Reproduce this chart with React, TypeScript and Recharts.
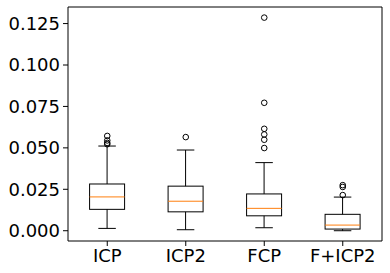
import { ComposedChart, Bar, Scatter, XAxis, YAxis } from 'recharts';

const categories = ['ICP', 'ICP2', 'FCP', 'F+ICP2'];
const whiskerLow = [0.0014, 0.0006, 0.0018, 0.0];
const q1 = [0.0129, 0.0114, 0.009, 0.001];
const median = [0.0204, 0.0178, 0.0135, 0.0034];
const q3 = [0.0282, 0.0269, 0.0222, 0.0099];
const whiskerHigh = [0.0511, 0.0487, 0.0411, 0.0203];
const outliers = [
  [0.0572, 0.0545, 0.053, 0.0522],
  [0.0565],
  [0.1286, 0.0772, 0.0615, 0.0581, 0.0549, 0.0499],
  [0.0275, 0.0264, 0.0215],
];
const yTicks = [0, 0.025, 0.05, 0.075, 0.1, 0.125];
const yDomain = [-0.0062, 0.135];

const data = categories.map((name, i) => ({
  name,
  lo: whiskerLow[i],
  q1: q1[i],
  med: median[i],
  q3: q3[i],
  hi: whiskerHigh[i],
  range: [whiskerLow[i], whiskerHigh[i]],
}));

const outlierData = categories.flatMap((name, i) => outliers[i].map((v) => ({ name, v })));

const FONT = 'DejaVu Sans, sans-serif';

function BoxShape(props: any) {
  const { x, y, width, height, payload } = props;
  const top = Math.min(y, y + height);
  const h = Math.abs(height);
  const k = h / (payload.hi - payload.lo);
  const py = (v: number) => top + (payload.hi - v) * k;
  const cx = x + width / 2;
  const cap = width / 4;
  return (
    <g fill="none" strokeWidth={1}>
      <line x1={cx} x2={cx} y1={py(payload.hi)} y2={py(payload.q3)} stroke="#000" />
      <line x1={cx} x2={cx} y1={py(payload.q1)} y2={py(payload.lo)} stroke="#000" />
      <line x1={cx - cap} x2={cx + cap} y1={py(payload.hi)} y2={py(payload.hi)} stroke="#000" />
      <line x1={cx - cap} x2={cx + cap} y1={py(payload.lo)} y2={py(payload.lo)} stroke="#000" />
      <rect x={x} y={py(payload.q3)} width={width} height={py(payload.q1) - py(payload.q3)} stroke="#000" />
      <line x1={x} x2={x + width} y1={py(payload.med)} y2={py(payload.med)} stroke="#ff7f0e" />
    </g>
  );
}

function Flier(props: any) {
  const { cx, cy } = props;
  return <circle cx={cx} cy={cy} r={2.8} fill="none" stroke="#000" strokeWidth={1} />;
}

export default function App() {
  return (
    <div style={{ position: 'absolute', left: 0, top: 0, background: '#fff' }}>
      <ComposedChart
        width={390}
        height={273}
        data={data}
        margin={{ top: 6, right: 7, bottom: 0, left: 0 }}
        barCategoryGap="27.5%"
      >
        <XAxis
          dataKey="name"
          allowDuplicatedCategory={false}
          height={32}
          tickSize={5}
          tickMargin={3}
          interval={0}
          stroke="#000"
          tick={{ fill: '#000', fontSize: 18, fontFamily: FONT }}
        />
        <XAxis
          xAxisId="top"
          dataKey="name"
          allowDuplicatedCategory={false}
          orientation="top"
          height={1}
          tick={false}
          tickLine={false}
          stroke="#000"
        />
        <YAxis
          type="number"
          domain={yDomain}
          ticks={yTicks}
          allowDataOverflow
          width={68}
          tickSize={5}
          tickMargin={3}
          stroke="#000"
          tickFormatter={(v: number) => v.toFixed(3)}
          tick={{ fill: '#000', fontSize: 18, fontFamily: FONT }}
        />
        <YAxis
          yAxisId="right"
          orientation="right"
          type="number"
          domain={yDomain}
          allowDataOverflow
          width={1}
          tick={false}
          tickLine={false}
          stroke="#000"
        />
        <Bar dataKey="range" shape={<BoxShape />} isAnimationActive={false} />
        <Scatter
          data={outlierData}
          dataKey="v"
          xAxisId="top"
          yAxisId="right"
          shape={<Flier />}
          isAnimationActive={false}
        />
      </ComposedChart>
    </div>
  );
}
